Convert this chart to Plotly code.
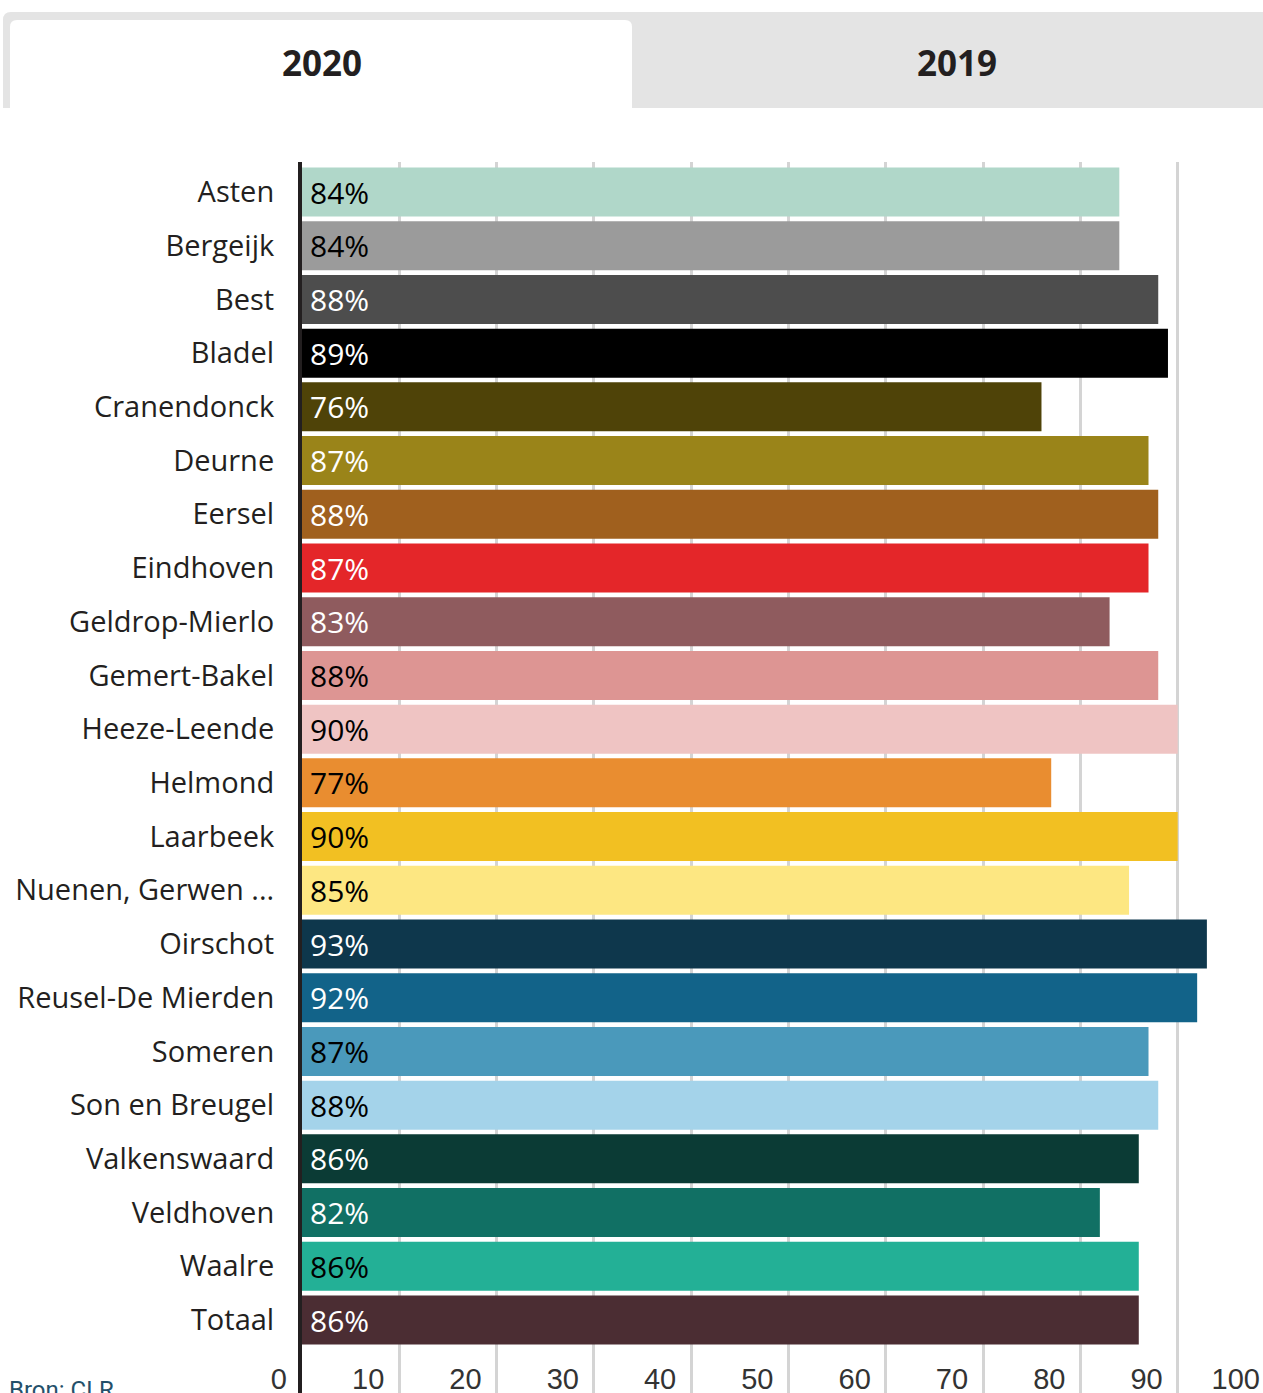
import plotly.graph_objects as go

# ---------------- data ----------------
gemeenten = ["Asten", "Bergeijk", "Best", "Bladel", "Cranendonck", "Deurne", "Eersel",
             "Eindhoven", "Geldrop-Mierlo", "Gemert-Bakel", "Heeze-Leende", "Helmond",
             "Laarbeek", "Nuenen, Gerwen ...", "Oirschot", "Reusel-De Mierden", "Someren",
             "Son en Breugel", "Valkenswaard", "Veldhoven", "Waalre", "Totaal"]
percentages = [84, 84, 88, 89, 76, 87, 88, 87, 83, 88, 90, 77, 90, 85, 93, 92, 87, 88, 86, 82, 86, 86]
bar_colors = ["#b0d7c9", "#9b9b9b", "#4d4d4d", "#000000", "#4f4308", "#9a8419", "#a0601e",
              "#e42629", "#8f5b5e", "#dd9593", "#efc4c3", "#e98d30", "#f2c022", "#fde782",
              "#0e374c", "#126389", "#4a99bb", "#a4d3ea", "#0b3b35", "#117064", "#23b096",
              "#4b2d33"]
label_colors = ["#000000", "#000000", "#ffffff", "#ffffff", "#ffffff", "#ffffff", "#ffffff",
                "#ffffff", "#ffffff", "#000000", "#000000", "#000000", "#000000", "#000000",
                "#ffffff", "#ffffff", "#000000", "#000000", "#ffffff", "#ffffff", "#000000",
                "#ffffff"]
x_tick_values = [0, 10, 20, 30, 40, 50, 60, 70, 80, 90, 100]
x_tick_labels = ["0", "10", "20", "30", "40", "50", "60", "70", "80", "90", "100"]
tabs = ["2020", "2019"]
source_text = "Bron: CLR"

# ---------------- geometry (pixels) ----------------
W, H = 1300, 1430
PL, PR = 302, 1275          # plot left / right
PT, PB = 162, 1405          # plot top / bottom
ROW0, PITCH = 192, (1320 - 192) / 21
BAR_H = 49
TICK_Y = 1359               # where the tick-label axis sits


def px(xp):
    return (xp - PL) / (PR - PL)


def py(yp):
    return (PB - yp) / (PB - PT)


y_top = -(ROW0 - PT) / PITCH
y_bot = (PB - ROW0) / PITCH

fig = go.Figure()
fig.add_trace(go.Bar(
    x=percentages,
    y=gemeenten,
    orientation="h",
    marker=dict(color=bar_colors, line=dict(width=0)),
    text=["\u2009" + f"{v}%" for v in percentages],
    textposition="inside",
    insidetextanchor="start",
    constraintext="none",
    textfont=dict(family="Open Sans", size=30, color=label_colors),
    cliponaxis=False,
    hoverinfo="skip",
))
# invisible helper so the tick-label axis (x2) gets drawn
fig.add_trace(go.Scatter(
    x=[x_tick_values[0]], y=[gemeenten[0]], xaxis="x2", yaxis="y",
    mode="markers", marker=dict(opacity=0, size=1),
    hoverinfo="skip", showlegend=False,
))

shapes = []
# grey tab strip with rounded top-left corner
shapes.append(dict(
    type="path", xref="paper", yref="paper", layer="above",
    path=(f"M {px(3)},{py(108)} L {px(3)},{py(20)} Q {px(3)},{py(12)} {px(11)},{py(12)} "
          f"L {px(W)},{py(12)} L {px(W)},{py(108)} Z"),
    fillcolor="#e4e4e4", line=dict(width=0)))
# active white tab
shapes.append(dict(
    type="path", xref="paper", yref="paper", layer="above",
    path=(f"M {px(10)},{py(108)} L {px(10)},{py(27)} Q {px(10)},{py(20)} {px(17)},{py(20)} "
          f"L {px(625)},{py(20)} Q {px(632)},{py(20)} {px(632)},{py(27)} L {px(632)},{py(108)} Z"),
    fillcolor="#ffffff", line=dict(width=0)))

annotations = [
    dict(text=f"<b>{tabs[0]}</b>", x=px(322), y=py(62), xref="paper", yref="paper",
         xanchor="center", yanchor="middle", showarrow=False,
         font=dict(family="Open Sans", size=35, color="#231f20")),
    dict(text=f"<b>{tabs[1]}</b>", x=px(957), y=py(62), xref="paper", yref="paper",
         xanchor="center", yanchor="middle", showarrow=False,
         font=dict(family="Open Sans", size=35, color="#231f20")),
    dict(text=source_text, x=px(7), y=py(1374), xref="paper", yref="paper",
         xanchor="left", yanchor="top", showarrow=False,
         font=dict(family="Roboto", size=24, color="#24506a")),
]

fig.update_layout(
    width=W, height=H,
    margin=dict(l=PL, r=W - PR, t=PT, b=H - PB, pad=0),
    paper_bgcolor="white", plot_bgcolor="white",
    bargap=1 - BAR_H / PITCH,
    showlegend=False,
    shapes=shapes,
    annotations=annotations,
    xaxis=dict(
        range=[0, 100], tickvals=x_tick_values,
        showgrid=True, gridcolor="#d4d4d4", gridwidth=3,
        zeroline=False, showline=False, ticks="", showticklabels=False,
        fixedrange=True,
    ),
    xaxis2=dict(
        overlaying="x", anchor="free", position=py(TICK_Y), side="bottom",
        range=[0, 100], tickvals=x_tick_values, ticktext=x_tick_labels,
        showgrid=False, zeroline=False, showline=False, ticks="",
        ticklabelposition="outside left", ticklabelshift=-15,
        tickfont=dict(family="Liberation Sans", size=29, color="#333333"),
        fixedrange=True,
    ),
    yaxis=dict(
        type="category", categoryorder="array", categoryarray=gemeenten,
        range=[y_bot, y_top],
        showgrid=False, zeroline=False,
        showline=True, linecolor="#231f20", linewidth=4,
        ticks="", ticklabelstandoff=18,
        tickfont=dict(family="Open Sans", size=29, color="#231f20"),
        fixedrange=True,
    ),
)

fig.write_html(
    "out.html",
    config={"displayModeBar": False},
    post_script=("document.body.style.margin='0';"
                 "document.body.style.overflow='hidden';"
                 "document.documentElement.style.overflow='hidden';"),
)
